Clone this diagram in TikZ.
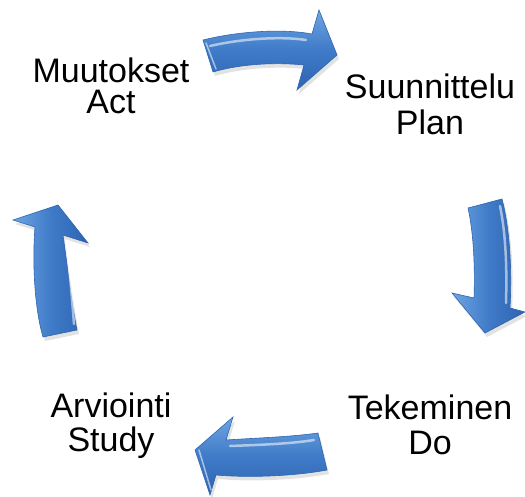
\documentclass[tikz,border=0pt]{standalone}
\usepackage{fontspec}
\setmainfont{Liberation Sans}
\definecolor{arrowMid}{HTML}{3F7BC8}
\definecolor{arrowDark}{HTML}{2E64B2}
\definecolor{arrowLight}{HTML}{6FA5E2}
\definecolor{arrowShade}{HTML}{8C8C8C}
\tikzset{
    cyclearrow/.style={draw=arrowDark, line width=0.6pt, line join=miter},
    hshade/.style={top color=arrowLight, bottom color=arrowDark, middle color=arrowMid},
    vshade/.style={left color=arrowLight, right color=arrowDark, middle color=arrowMid},
    arrowshadow/.style={fill=arrowShade, opacity=0.25, draw=none},
    glint/.style={white, opacity=0.55, line width=2.5pt, line cap=round},
    lbl/.style={font=\fontsize{34}{36}\selectfont, inner sep=0pt, anchor=base}
}
\begin{document}
\begin{tikzpicture}[x=1pt,y=-1pt]
        \useasboundingbox (0,0) rectangle (525,497);
        \def\planArrow{(203,40) .. controls (235,32) and (280,28) .. (312,34) -- (319,10) -- (337,55) -- (297,90) -- (304,65) .. controls (275,62) and (240,64) .. (213,72) -- cycle}
        \def\doArrow{(468,208) .. controls (474,235) and (475,270) .. (474,298) -- (452,293) -- (485,333) -- (525,312) -- (510,308) .. controls (512,270) and (510,230) .. (502,199) -- cycle}
        \def\studyArrow{(318,433) .. controls (290,437) and (255,438) .. (226,440) -- (233,417) -- (195,450) -- (210,495) -- (216,475) .. controls (250,478) and (295,476) .. (327,470) -- cycle}
        \def\actArrow{(43,337) .. controls (35,310) and (32,265) .. (35,227) -- (13,220) -- (58,205) -- (88,243) -- (63,235) .. controls (68,270) and (72,305) .. (77,330) -- cycle}

        % soft shadows
        \foreach \a in {\planArrow,\doArrow,\studyArrow,\actArrow} {
                \fill[arrowshadow, shift={(2,4)}] \a;
            }

        % Plan -> Do -> Study -> Act
        \path[cyclearrow, hshade] \planArrow;
        \path[cyclearrow, vshade] \doArrow;
        \path[cyclearrow, hshade] \studyArrow;
        \path[cyclearrow, vshade] \actArrow;

        % highlights
        \draw[glint] (210,46) .. controls (240,39) and (280,36) .. (306,40);
        \draw[glint] (500,206) .. controls (506,235) and (507,270) .. (506,303);
        \draw[glint] (314,440) .. controls (290,444) and (255,445) .. (230,446);
        \draw[glint] (66,242) .. controls (70,270) and (72,300) .. (74,324);
        \draw[glint, line width=1.5pt] (206,43) -- (216,69);
        \draw[glint, line width=1.5pt] (199,450) -- (211,490);

        \foreach \x/\ya/\yb/\top/\bot/\name in{111/83/114/Muutokset/Act/act,430/99/135/Suunnittelu/Plan/plan,430/419/454/Tekeminen/Do/do,111/417/451/Arviointi/Study/study} {
                \node[lbl] (\name top) at (\x,\ya) {\top};
                \node[lbl] (\name bot) at (\x,\yb) {\bot};
            }
    \end{tikzpicture}
\end{document}
